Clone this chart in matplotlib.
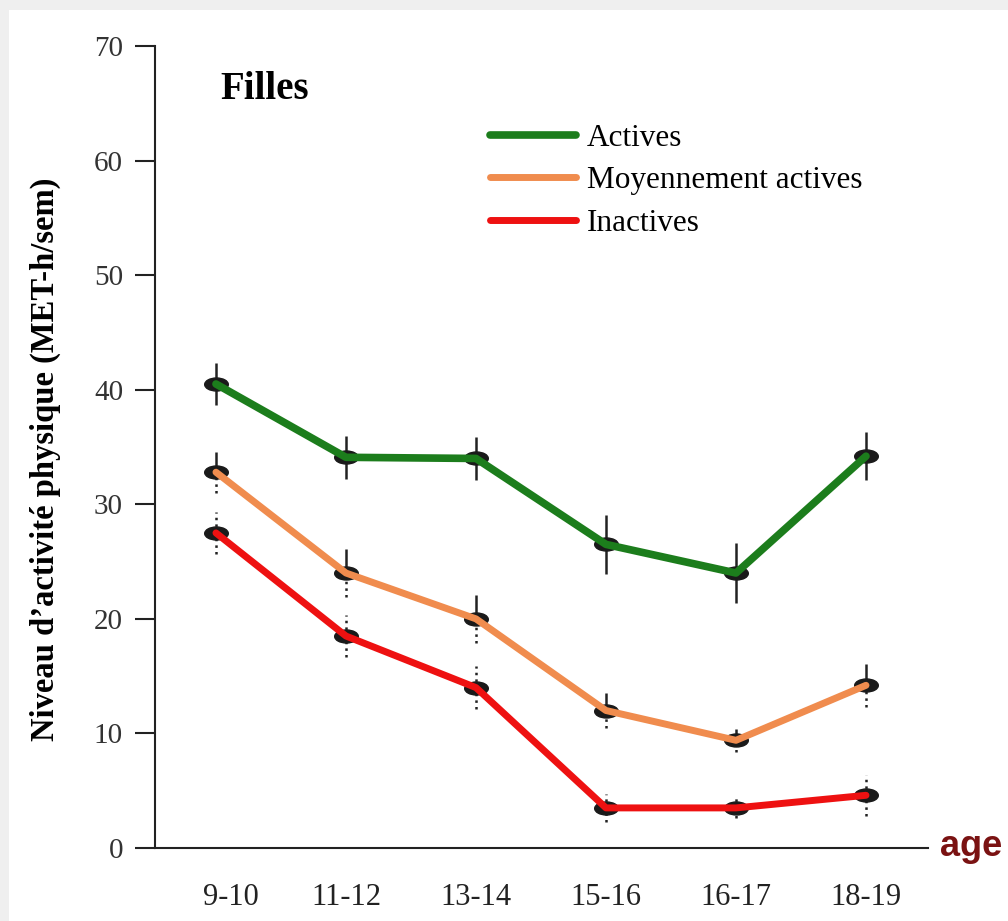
import matplotlib
matplotlib.use("Agg")
import matplotlib.pyplot as plt
from matplotlib.path import Path
from matplotlib.transforms import Affine2D, ScaledTranslation
from matplotlib.patches import Rectangle

# Age groups and weekly physical activity (MET-h/week) for girls
age_groups = ["9-10", "11-12", "13-14", "15-16", "16-17", "18-19"]
actives = [40.5, 34.1, 34.0, 26.5, 24.0, 34.2]
moyennes = [32.8, 24.0, 20.0, 12.0, 9.4, 14.2]
inactives = [27.5, 18.5, 14.0, 3.5, 3.5, 4.6]
err_actives = [1.8, 1.9, 1.9, 2.6, 2.6, 2.1]
err_moyennes = [1.8, 2.1, 2.1, 1.5, 1.0, 1.9]
err_inactives = [1.8, 1.8, 1.9, 1.2, 0.9, 1.8]
y_ticks = [0, 10, 20, 30, 40, 50, 60, 70]

W, H = 1008, 921
fig = plt.figure(figsize=(W / 100, H / 100), dpi=100, facecolor="#efefef")
fig.patches.append(Rectangle((9 / W, 0), 1, (H - 10) / H, transform=fig.transFigure,
                             facecolor="white", edgecolor="none", zorder=-10))

ax = fig.add_axes([155 / W, 73 / H, (928 - 155) / W, (848 - 46) / H])
ax.set_facecolor("none")
ax.set_zorder(5)

serif = "Liberation Serif"
x = list(range(len(age_groups)))

ellipse = Path.unit_circle().transformed(Affine2D().scale(1.0, 0.55))

series = [
    (actives, err_actives, "#1c7d1c", "Actives", 5.5, ("solid", "solid")),
    (moyennes, err_moyennes, "#f08c4e", "Moyennement actives", 5.0, ("solid", "dotted")),
    (inactives, err_inactives, "#ee1111", "Inactives", 5.0, ("dotted", "dotted")),
]

for vals, errs, color, label, lw, (up_style, low_style) in series:
    for xi, v, e in zip(x, vals, errs):
        ax.vlines(xi, v, v + e, colors="#222222", linestyles=up_style, lw=1.8, zorder=2)
        ax.vlines(xi, v - e, v, colors="#222222", linestyles=low_style, lw=1.8, zorder=2)
    ax.plot(x, vals, ls="none", marker=ellipse, ms=17, color="#1a1a1a", zorder=3)
    ax.plot(x, vals, color=color, lw=lw, solid_capstyle="round",
            solid_joinstyle="round", label=label, zorder=4)

ax.set_xlim(-0.469, 5.477)
ax.set_ylim(0, 70)
ax.set_yticks(y_ticks)
ax.set_yticklabels([str(t) for t in y_ticks], fontfamily=serif, fontsize=21, color="#333333")
ax.set_xticks(x)
ax.set_xticklabels(age_groups, fontfamily=serif, fontsize=22, color="#222222")
ax.tick_params(axis="y", direction="out", length=14.5, width=1.5, pad=8.5, color="#222222")
ax.tick_params(axis="x", length=0, pad=25)

# first age label sits slightly right of its point
first = ax.get_xticklabels()[0]
first.set_transform(first.get_transform() + ScaledTranslation(15 / 100, 0, fig.dpi_scale_trans))

for side in ("top", "right"):
    ax.spines[side].set_visible(False)
for side in ("left", "bottom"):
    ax.spines[side].set_linewidth(1.5)
    ax.spines[side].set_color("#222222")

ax.set_ylabel("Niveau d’activité physique (MET-h/sem)", fontfamily=serif,
              fontweight="bold", fontsize=23.5)
ax.yaxis.set_label_coords(-0.122, 0.485)

ax.text(0.084, 0.934, "Filles", transform=ax.transAxes, fontfamily=serif,
        fontweight="bold", fontsize=28, va="baseline", ha="left")

fig.text(940 / W, 1 - 856 / H, "age", fontfamily="Liberation Sans", fontweight="bold",
         fontsize=26, color="#7a1212", va="baseline", ha="left")

leg = ax.legend(loc="upper left", bbox_to_anchor=(0.433, 0.903), frameon=False,
                prop={"family": serif, "size": 22.5}, handlelength=2.75,
                handletextpad=0.35, labelspacing=0.43, borderpad=0, borderaxespad=0)

fig.savefig("out.png", dpi=100, facecolor=fig.get_facecolor())
